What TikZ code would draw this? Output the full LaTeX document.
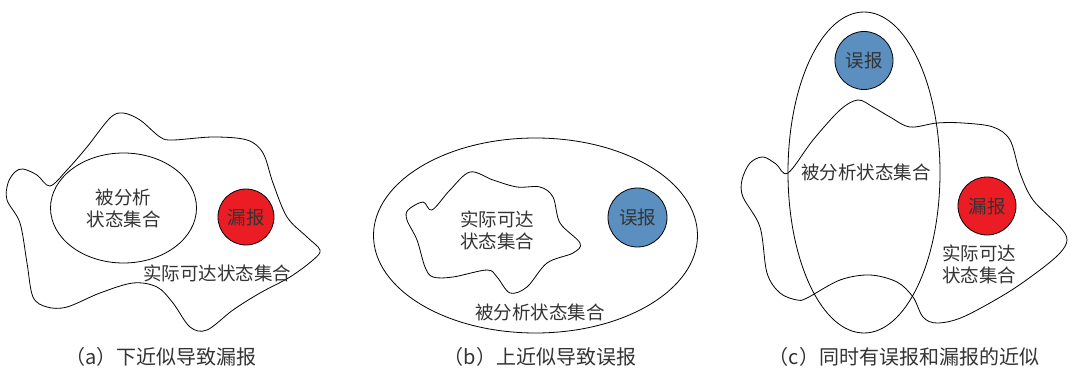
\documentclass[tikz,border=0pt]{standalone}
\usepackage{fontspec}
\newfontfamily\cjk{Noto Sans CJK SC}
\definecolor{myred}{HTML}{EC1C24}
\definecolor{myblue}{HTML}{5A8FC0}
\definecolor{txt}{HTML}{333333}
\begin{document}
\begin{tikzpicture}[x=1pt,y=-1pt,
  outline/.style={draw=black, line width=0.8pt},
  lbl/.style={font=\cjk\fontsize{18.5}{22}\selectfont, text=txt, align=center, inner sep=0pt},
  captxt/.style={font=\cjk\fontsize{20}{24}\selectfont, text=txt, inner sep=0pt},
  dot/.style={circle, draw=black, line width=0.8pt, minimum size=#1, inner sep=0pt, font=\cjk\fontsize{18.5}{22}\selectfont, text=txt}
]
\useasboundingbox (0,0) rectangle (1072,374);
% ---------- (a)
\draw[outline] plot[smooth cycle, tension=0.55] coordinates {
 (23,169) (37,175) (50,186) (67,170) (87,147) (110,118) (123,113) (140,120) (160,137) (173,140)
 (213,137) (247,140) (263,153) (273,183) (287,217) (307,237) (320,250) (313,260) (290,277)
 (260,293) (233,310) (207,330) (190,327) (173,303) (157,287) (133,283) (100,293) (67,307)
 (47,307) (33,297) (27,263) (20,223) (7,200) (8,183) (15,172)};
\draw[outline, fill=white] (123.5,208) ellipse [x radius=73, y radius=55];
\node[lbl] (a-set) at (123.5,208) {被分析\\状态集合};
\node[dot=56pt, fill=myred] (a-miss) at (246,217) {漏报};
\node[lbl] (a-reach) at (217,273) {实际可达状态集合};
\node[captxt] (a-cap) at (161,357) {（a）下近似导致漏报};
% ---------- (b)
\draw[outline] (535.5,235.5) ellipse [x radius=162, y radius=97.5];
\draw[outline] plot[smooth cycle, tension=0.55] coordinates {
 (408,210) (423,202) (432,210) (450,190) (470,172) (493,180) (517,187) (540,187) (553,197)
 (560,223) (580,243) (573,253) (547,263) (527,287) (510,293) (497,277) (487,270) (453,277)
 (433,277) (425,267) (417,240) (407,220)};
\node[lbl] (b-reach) at (497,230) {实际可达\\状态集合};
\node[dot=59pt, fill=myblue] (b-false) at (637.5,217.5) {误报};
\node[lbl] (b-set) at (540,312) {被分析状态集合};
\node[captxt] (b-cap) at (540,357) {（b）上近似导致误报};
% ---------- (c)
\draw[outline] plot[smooth cycle, tension=0.55] coordinates {
 (763,157) (776,164) (788,173) (813,140) (840,110) (858,100) (873,107) (890,117) (910,127)
 (937,123) (963,123) (993,127) (1010,140) (1020,173) (1033,200) (1060,227) (1067,240)
 (1060,253) (1040,270) (1007,293) (963,317) (937,323) (923,317) (913,297) (897,282)
 (870,275) (840,280) (807,298) (797,300) (780,293) (767,273) (760,227) (743,197) (742,180)
 (750,163)};
\draw[outline] (864,172.5) ellipse [x radius=76, y radius=160.5];
\node[dot=58pt, fill=myblue] (c-false) at (864,60.5) {误报};
\node[dot=58pt, fill=myred] (c-miss) at (987,206) {漏报};
\node[lbl] (c-set) at (866,172) {被分析状态集合};
\node[lbl] (c-reach) at (979,264) {实际可达\\状态集合};
\node[captxt] (c-cap) at (904,357) {（c）同时有误报和漏报的近似};
\end{tikzpicture}
\end{document}
